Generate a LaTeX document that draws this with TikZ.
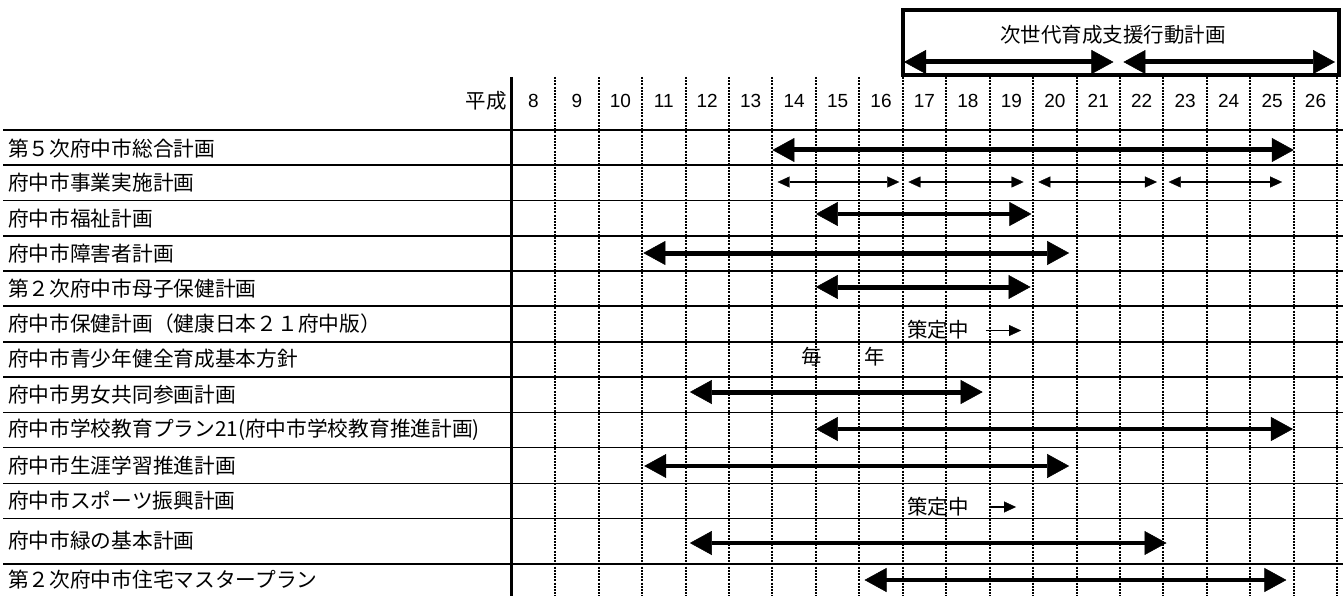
\documentclass[tikz,border=0pt]{standalone}
\usepackage{fontspec}
\setmainfont{Noto Sans CJK JP}
\newfontfamily\numfont{Liberation Sans}
\usetikzlibrary{arrows.meta}
\def\cx#1{511.7+43.45*(#1)}
\begin{document}
\begin{tikzpicture}[x=1pt,y=-1pt,
  lbl/.style={anchor=west,inner sep=0pt,font=\fontsize{20.7}{24}\selectfont},
  jp/.style={inner sep=0pt,font=\fontsize{20.5}{24}\selectfont},
  yr/.style={inner sep=0pt,font=\numfont\fontsize{19}{21}\selectfont},
  hrule/.style={line width=1.6pt},
  vdot/.style={line width=2pt,dash pattern=on 2pt off 1.2pt},
  bigtip/.tip={Triangle[length=22pt,width=24pt,line width=0.5pt]},
  thintip/.tip={Triangle[length=12pt,width=11pt,line width=0.3pt]},
  bigarrow/.style={line width=5pt,bigtip-bigtip},
  midarrow/.style={line width=4.3pt,bigtip-bigtip},
  thinarrow/.style={line width=1.3pt,thintip-thintip},
  smallarrow/.style={line width=1.4pt,-thintip},
]
\useasboundingbox (0,0) rectangle (1343,596);
% horizontal rules
\foreach \yy in {130,165,200.7,236,270.7,306,341.7,376.7,412.3,447.3,483.3,518.3,564}
  \draw[hrule] (3,\yy) -- (1343,\yy);
% vertical lines
\draw[line width=2.6pt] (511.7,77) -- (511.7,596);
\foreach \k in {1,...,19}
  \draw[vdot] ({\cx{\k}},77) -- ({\cx{\k}},596);
% header box
\draw[line width=3.5pt,fill=white] ({\cx{9}},10) rectangle (1339,75);
\node[jp] (title) at (1113,35) {次世代育成支援行動計画};
\coordinate (b1s) at (904,62); \coordinate (b1e) at ({\cx{13.85}},62);
\coordinate (b2s) at ({\cx{14.08}},62); \coordinate (b2e) at (1335,62);
\draw[bigarrow] (b1s) -- (b1e);
\draw[bigarrow] (b2s) -- (b2e);
% year labels
\node[jp,anchor=east] (heisei) at (507,101) {平成};
\foreach \yrn [count=\i from 0] in {8,...,26}
  \node[yr] (y\yrn) at ({\cx{\i+0.5}},101) {\yrn};
% row labels
\node[lbl] (l1) at (8,148.5) {第５次府中市総合計画};
\node[lbl] (l2) at (8,183) {府中市事業実施計画};
\node[lbl] (l3) at (8,218.5) {府中市福祉計画};
\node[lbl] (l4) at (8,253.5) {府中市障害者計画};
\node[lbl] (l5) at (8,288.5) {第２次府中市母子保健計画};
\node[lbl] (l6) at (8,324) {府中市保健計画（健康日本２１府中版）};
\node[lbl] (l7) at (8,359) {府中市青少年健全育成基本方針};
\node[lbl] (l8) at (8,394.5) {府中市男女共同参画計画};
\node[lbl] (l9) at (8,430) {府中市学校教育プラン21(府中市学校教育推進計画)};
\node[lbl] (l10) at (8,465.5) {府中市生涯学習推進計画};
\node[lbl] (l11) at (8,501) {府中市スポーツ振興計画};
\node[lbl] (l12) at (8,541) {府中市緑の基本計画};
\node[lbl] (l13) at (8,580) {第２次府中市住宅マスタープラン};
% arrows
\coordinate (a1s) at ({\cx{6}},150); \coordinate (a1e) at ({\cx{18}},150);
\draw[bigarrow] (a1s) -- (a1e);
\coordinate (a2s) at ({\cx{6.12}},182); \coordinate (a2e) at ({\cx{8.92}},182);
\coordinate (a2f) at ({\cx{9.13}},182); \coordinate (a2g) at ({\cx{11.78}},182);
\coordinate (a2h) at ({\cx{12.12}},182); \coordinate (a2i) at ({\cx{14.85}},182);
\coordinate (a2j) at ({\cx{15.12}},182); \coordinate (a2k) at ({\cx{17.73}},182);
\draw[thinarrow] (a2s) -- (a2e);
\draw[thinarrow] (a2f) -- (a2g);
\draw[thinarrow] (a2h) -- (a2i);
\draw[thinarrow] (a2j) -- (a2k);
\coordinate (a3s) at ({\cx{7}},214); \coordinate (a3e) at ({\cx{11.96}},214);
\draw[midarrow] (a3s) -- (a3e);
\coordinate (a4s) at ({\cx{3.03}},253); \coordinate (a4e) at ({\cx{12.83}},253);
\draw[bigarrow] (a4s) -- (a4e);
\coordinate (a5s) at ({\cx{7}},287); \coordinate (a5e) at ({\cx{11.94}},287);
\draw[bigarrow] (a5s) -- (a5e);
\node[jp] (s6) at (938,330) {策定中};
\coordinate (a6s) at (986,330.5); \coordinate (a6e) at (1021,330.5);
\draw[smallarrow] (a6s) -- (a6e);
\node[jp] (m7) at (812,357) {毎};
\node[jp] (n7) at (875,357) {年};
\coordinate (a8s) at ({\cx{4.1}},392); \coordinate (a8e) at ({\cx{10.84}},392);
\draw[bigarrow] (a8s) -- (a8e);
\coordinate (a9s) at ({\cx{7}},429); \coordinate (a9e) at ({\cx{17.98}},429);
\draw[midarrow] (a9s) -- (a9e);
\coordinate (a10s) at ({\cx{3.05}},466); \coordinate (a10e) at ({\cx{12.83}},466);
\draw[midarrow] (a10s) -- (a10e);
\node[jp] (s11) at (938,507) {策定中};
\coordinate (a11s) at (990,507); \coordinate (a11e) at (1016,507);
\draw[smallarrow] (a11s) -- (a11e);
\coordinate (a12s) at ({\cx{4.1}},543); \coordinate (a12e) at ({\cx{15.07}},543);
\draw[midarrow] (a12s) -- (a12e);
\coordinate (a13s) at ({\cx{8.12}},580); \coordinate (a13e) at ({\cx{17.83}},580);
\draw[midarrow] (a13s) -- (a13e);
\end{tikzpicture}
\end{document}
